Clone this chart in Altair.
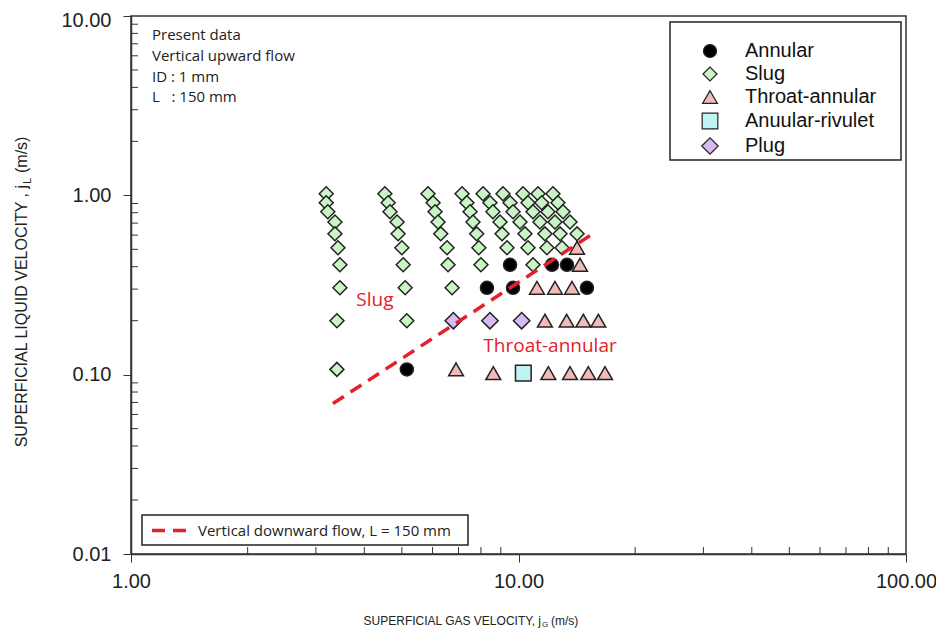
import altair as alt
import pandas as pd

# ---------------- data ----------------
regimes = ["Annular", "Slug", "Throat-annular", "Anuular-rivulet", "Plug"]
regime_fill = ["#000000", "#c8f5c3", "#f2baba", "#bff3f5", "#d8baf0"]
regime_shape = ["circle", "diamond", "triangle-up", "square", "diamond"]
regime_size = [170, 270, 165, 140, 270]

row_y = [1.02, 0.91, 0.81, 0.71, 0.61, 0.51, 0.41, 0.305, 0.2, 0.107]

slug_cols_x = [
    [3.19, 3.19, 3.22, 3.36, 3.36, 3.42, 3.46, 3.46, 3.40, 3.40],
    [4.52, 4.61, 4.66, 4.86, 4.89, 5.00, 5.04, 5.10, 5.15],
    [5.84, 6.02, 6.09, 6.20, 6.30, 6.54, 6.58, 6.74],
    [7.15, 7.36, 7.50, 7.63, 7.80, 7.90, 8.00],
    [8.10, 8.44, 8.59, 8.96, 9.07, 9.34],
    [9.12, 9.51, 9.68, 10.09, 10.39, 10.58, 10.90],
    [10.27, 10.58, 10.90, 11.36, 11.70, 11.84],
    [11.23, 11.48, 11.91, 12.42, 12.80, 12.95],
    [12.27, 12.64, 13.03, 13.58, 14.16],
]

annular_x = [5.15, 8.29, 9.51, 9.68, 12.20, 13.34, 15.02]
annular_y = [0.107, 0.305, 0.41, 0.305, 0.41, 0.41, 0.305]

throat_x = [6.90, 8.61, 11.94, 13.58, 15.14, 16.72, 11.70, 13.31, 14.70, 16.07,
            11.16, 12.42, 13.74, 14.41, 14.16]
throat_y = [0.107, 0.102, 0.102, 0.102, 0.102, 0.102, 0.2, 0.2, 0.2, 0.2,
            0.305, 0.305, 0.305, 0.41, 0.51]

rivulet_x = [10.29]
rivulet_y = [0.102]

plug_x = [6.79, 8.44, 10.19]
plug_y = [0.2, 0.2, 0.2]

line_label = "Vertical downward flow, L = 150 mm"
line_x = [3.32, 15.9]
line_y = [0.069, 0.63]

region_text = ["Slug", "Throat-annular"]
region_x = [4.26, 12.06]
region_y = [0.26, 0.145]

info_lines = ["Present data", "Vertical upward flow", "ID : 1 mm", "L\u00a0\u00a0 : 150 mm"]

x_ticks = [1, 10, 100]
y_ticks = [0.01, 0.1, 1, 10]
x_minor = [2, 3, 4, 5, 6, 7, 8, 9, 20, 30, 40, 50, 60, 70, 80, 90]
y_minor = [0.02, 0.03, 0.04, 0.05, 0.06, 0.07, 0.08, 0.09,
           0.2, 0.3, 0.4, 0.5, 0.6, 0.7, 0.8, 0.9,
           2, 3, 4, 5, 6, 7, 8, 9]

# ---------------- tables ----------------
rows = []
for xs_col in slug_cols_x:
    for xv, yv in zip(xs_col, row_y):
        rows.append({"x": xv, "y": yv, "regime": "Slug"})
for xv, yv in zip(annular_x, annular_y):
    rows.append({"x": xv, "y": yv, "regime": "Annular"})
for xv, yv in zip(throat_x, throat_y):
    rows.append({"x": xv, "y": yv, "regime": "Throat-annular"})
for xv, yv in zip(rivulet_x, rivulet_y):
    rows.append({"x": xv, "y": yv, "regime": "Anuular-rivulet"})
for xv, yv in zip(plug_x, plug_y):
    rows.append({"x": xv, "y": yv, "regime": "Plug"})
pts = pd.DataFrame(rows)

line_df = pd.DataFrame({"x": line_x, "y": line_y, "series": [line_label] * len(line_x)})
region_df = pd.DataFrame({"x": region_x, "y": region_y, "t": region_text})
one = pd.DataFrame({"k": [0]})

W, H = 775, 538
RED = "#e5202a"
INK = "#222222"
AXF = "Liberation Sans"
CAL = "Open Sans"

xs = alt.Scale(type="log", domain=[1, 100], nice=False)
ys = alt.Scale(type="log", domain=[0.01, 10], nice=False)

AX = alt.Axis(values=x_ticks, format=".2f", title=None, grid=False,
              tickSize=8, tickColor="#333", domainColor="#333", domainWidth=1.5,
              labelFont=AXF, labelFontSize=20, labelColor=INK, labelPadding=9,
              labelFlush=False, labelOverlap=False)
AY = alt.Axis(values=y_ticks, format=".2f", title=None, grid=False,
              tickSize=8, tickColor="#333", domainColor="#333", domainWidth=1.5,
              labelFont=AXF, labelFontSize=20, labelColor=INK, labelPadding=12,
              labelFlush=False, labelOverlap=False,
              labelOffset={"condition": {"test": "datum.value >= 10", "value": 4}, "value": 0})

# legend boxes
box1 = alt.Chart(one).mark_rect(fill="white", stroke=INK, strokeWidth=1.5).encode(
    x=alt.value(539), x2=alt.value(770), y=alt.value(6), y2=alt.value(144))
box2 = alt.Chart(one).mark_rect(fill="white", stroke=INK, strokeWidth=1.5).encode(
    x=alt.value(11), x2=alt.value(337), y=alt.value(499), y2=alt.value(529))

# minor ticks (inside)
xminor = alt.Chart(pd.DataFrame({"x": x_minor})).mark_rule(color="#333", strokeWidth=1).encode(
    x=alt.X("x:Q", scale=xs, axis=AX), y=alt.value(H), y2=alt.value(H - 7))
yminor = alt.Chart(pd.DataFrame({"y": y_minor})).mark_rule(color="#333", strokeWidth=1).encode(
    y=alt.Y("y:Q", scale=ys, axis=AY), x=alt.value(0), x2=alt.value(7))

leg = alt.Legend(title=None, orient="none", legendX=569, legendY=25,
                 labelFont=AXF, labelFontSize=20, labelColor="#111",
                 symbolStrokeWidth=1.2,
                 labelOffset=25, rowPadding=3, padding=0, labelLimit=300)

points = alt.Chart(pts).mark_point(filled=True, strokeWidth=1.5, opacity=1).encode(
    x=alt.X("x:Q", scale=xs, axis=AX),
    y=alt.Y("y:Q", scale=ys, axis=AY),
    fill=alt.Fill("regime:N", scale=alt.Scale(domain=regimes, range=regime_fill), legend=leg),
    stroke=alt.Stroke("regime:N", scale=alt.Scale(domain=regimes, range=[INK] * 5), legend=leg),
    shape=alt.Shape("regime:N", scale=alt.Scale(domain=regimes, range=regime_shape), legend=leg),
    size=alt.Size("regime:N", scale=alt.Scale(domain=regimes, range=regime_size), legend=leg),
)

line = alt.Chart(line_df).mark_line(strokeWidth=3.5, strokeDash=[13, 8]).encode(
    x=alt.X("x:Q", scale=xs, axis=AX),
    y=alt.Y("y:Q", scale=ys, axis=AY),
    color=alt.Color("series:N", scale=alt.Scale(domain=[line_label], range=[RED]),
                    legend=alt.Legend(title=None, orient="none", legendX=19, legendY=495,
                                      symbolType="stroke", symbolSize=1225, symbolStrokeWidth=3.5,
                                      symbolDash=[13, 8], labelFont=CAL, labelFontSize=15,
                                      labelColor=INK, labelOffset=9, padding=0,
                                      labelLimit=400)),
)

regions = alt.Chart(region_df).mark_text(font=CAL, fontSize=19, color=RED).encode(
    x=alt.X("x:Q", scale=xs, axis=AX), y=alt.Y("y:Q", scale=ys, axis=AY), text="t:N")

info = alt.Chart(pd.DataFrame({"t": ["\n".join(info_lines)]})).mark_text(
    font=CAL, fontSize=15, color=INK, align="left", baseline="alphabetic",
    lineBreak="\n", lineHeight=20.6).encode(x=alt.value(21), y=alt.value(24.4), text="t:N")

# axis titles with subscripts
xt1 = alt.Chart(pd.DataFrame({"t": ["SUPERFICIAL GAS VELOCITY, j"]})).mark_text(
    font=AXF, fontSize=12, color=INK, align="right", baseline="alphabetic").encode(
    x=alt.value(410), y=alt.value(609), text="t:N")
xt2 = alt.Chart(pd.DataFrame({"t": ["G"]})).mark_text(
    font=AXF, fontSize=8, color=INK, align="left", baseline="alphabetic").encode(
    x=alt.value(411), y=alt.value(611), text="t:N")
xt3 = alt.Chart(pd.DataFrame({"t": ["(m/s)"]})).mark_text(
    font=AXF, fontSize=12, color=INK, align="left", baseline="alphabetic").encode(
    x=alt.value(420), y=alt.value(609), text="t:N")

yt1 = alt.Chart(pd.DataFrame({"t": ["SUPERFICIAL LIQUID VELOCITY , j"]})).mark_text(
    font=AXF, fontSize=16, color=INK, align="right", baseline="alphabetic", angle=270).encode(
    x=alt.value(-104), y=alt.value(169), text="t:N")
yt2 = alt.Chart(pd.DataFrame({"t": ["L"]})).mark_text(
    font=AXF, fontSize=11, color=INK, align="left", baseline="alphabetic", angle=270).encode(
    x=alt.value(-100), y=alt.value(168), text="t:N")
yt3 = alt.Chart(pd.DataFrame({"t": ["(m/s)"]})).mark_text(
    font=AXF, fontSize=16, color=INK, align="left", baseline="alphabetic", angle=270).encode(
    x=alt.value(-104), y=alt.value(157), text="t:N")

chart = alt.layer(
    box1, box2, xminor, yminor, points, line, regions, info, xt1, xt2, xt3, yt1, yt2, yt3
).properties(
    width=W, height=H,
    autosize=alt.AutoSizeParams(type="none"),
    padding={"left": 123, "top": 8, "right": 30, "bottom": 75},
    background="white",
).configure_view(stroke="#333", strokeWidth=1.5)

chart.save("out.html", embed_options={"renderer": "svg", "actions": False})
